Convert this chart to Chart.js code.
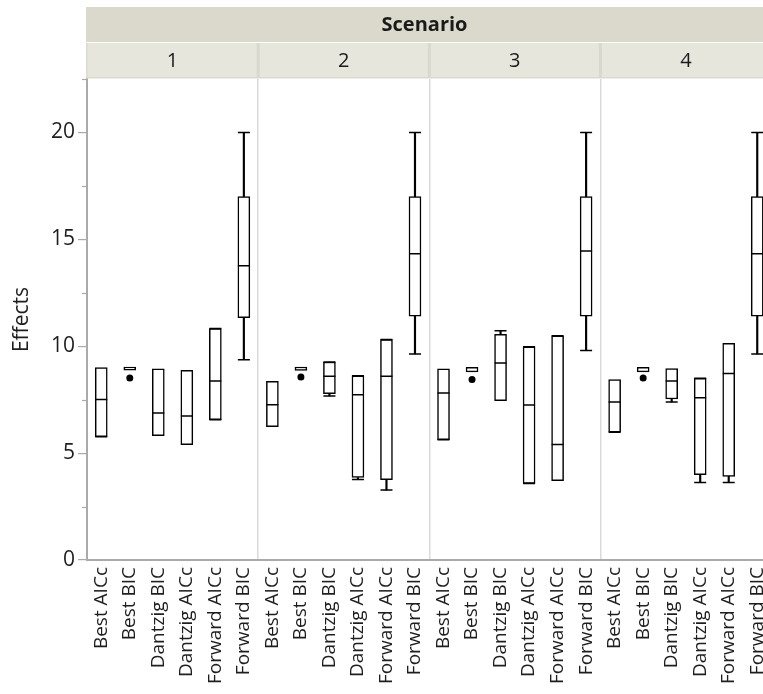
<!DOCTYPE html>
<html>
<head>
<meta charset="utf-8">
<script src="https://cdn.jsdelivr.net/npm/chart.js@4.4.1/dist/chart.umd.min.js"></script>
<style>
  html, body { margin: 0; padding: 0; background: #fff; overflow: hidden; }
  #wrap { position: absolute; left: 0; top: 0; width: 763px; height: 694px; overflow: hidden; }
  canvas { position: absolute; left: 0; top: 0; }
</style>
</head>
<body>
<div id="wrap"><canvas id="c" width="779" height="694" style="width:779px;height:694px"></canvas></div>
<script>
// ---- data ----
const groupTitle = 'Scenario';
const scenarios = ['1', '2', '3', '4'];
const methods = ['Best AICc', 'Best BIC', 'Dantzig BIC', 'Dantzig AICc', 'Forward AICc', 'Forward BIC'];
const yTitle = 'Effects';

// one entry per (scenario, method), scenario-major
const q1 = [
  5.77, 8.88, 5.82, 5.40, 6.56, 11.33,
  6.24, 8.87, 7.78, 3.86, 3.76, 11.41,
  5.63, 8.80, 7.45, 3.58, 3.71, 11.41,
  5.98, 8.80, 7.53, 3.99, 3.91, 11.41
];
const median = [
  7.51, null, 6.88, 6.74, 8.37, 13.77,
  7.26, null, 8.59, 7.73, 8.59, 14.33,
  7.81, null, 9.22, 7.25, 5.40, 14.46,
  7.39, null, 8.37, 7.59, 8.72, 14.33
];
const q3 = [
  9.00, 9.02, 8.94, 8.87, 10.83, 17.0,
  8.36, 9.02, 9.26, 8.62, 10.31, 17.0,
  8.94, 9.01, 10.56, 9.97, 10.49, 17.0,
  8.44, 9.01, 8.95, 8.50, 10.13, 17.0
];
const whiskerLow = [
  5.77, null, null, null, 6.56, 9.37,
  null, null, 7.67, 3.77, 3.27, 9.64,
  5.63, null, null, 3.58, null, 9.80,
  5.98, null, 7.39, 3.62, 3.62, 9.64
];
const whiskerHigh = [
  null, null, null, null, 10.83, 20.0,
  null, null, 9.26, 8.62, 10.31, 20.0,
  null, null, 10.72, 9.97, 10.49, 20.0,
  null, null, null, 8.50, null, 20.0
];
const outliers = [
  null, 8.51, null, null, null, null,
  null, 8.56, null, null, null, null,
  null, 8.44, null, null, null, null,
  null, 8.51, null, null, null, null
];
const yMin = 0, yMax = 22.5, yStep = 2.5, yLabelStep = 5;

// ---- build ----
const labels = scenarios.flatMap(() => methods);
const boxes = q1.map((v, i) => [v, q3[i]]);
const lowW = whiskerLow.map((v, i) => v == null ? null : [v, q1[i]]);
const highW = whiskerHigh.map((v, i) => v == null ? null : [q3[i], v]);
const FONT = "'Open Sans', 'Noto Sans', sans-serif";
const BOX_W = 12;

const headerPlugin = {
  id: 'header',
  afterDraw(chart) {
    const ctx = chart.ctx, x = chart.scales.x, y = chart.scales.y, a = chart.chartArea;
    const left = a.left - 1, right = chart.width;
    ctx.save();
    ctx.fillStyle = '#dbd9cb';
    ctx.fillRect(left, 7, right - left, 35);
    ctx.fillStyle = '#e7e6dd';
    ctx.fillRect(left, 43, right - left, 35);
    ctx.fillStyle = '#dcdbd1';
    ctx.fillRect(left, 77, right - left, 1.5);
    ctx.fillRect(left, 43, 1.5, 35);
    const n = methods.length;
    const half = (x.getPixelForValue(1) - x.getPixelForValue(0)) / 2;
    const centers = [];
    for (let s = 0; s < scenarios.length; s++) {
      const first = x.getPixelForValue(s * n), last = x.getPixelForValue(s * n + n - 1);
      centers.push([first - half, last + half]);
      if (s > 0) {
        ctx.fillStyle = '#d9d8ce';
        ctx.fillRect(first - half - 1.5, 43, 3, 35);
      }
    }
    ctx.fillStyle = '#1a1a1a';
    ctx.textAlign = 'center';
    ctx.textBaseline = 'middle';
    ctx.font = 'bold 20px ' + FONT;
    ctx.fillText(groupTitle, (left + 763) / 2, 25);
    ctx.font = '20px ' + FONT;
    centers.forEach((c, s) => ctx.fillText(scenarios[s], (c[0] + c[1]) / 2, 61));
    // minor ticks on y axis
    ctx.strokeStyle = '#aaaaaa';
    ctx.lineWidth = 1.2;
    for (let v = yMin; v <= yMax + 1e-9; v += yStep) {
      if (Math.abs(v / yLabelStep - Math.round(v / yLabelStep)) > 1e-6) {
        const py = Math.round(y.getPixelForValue(v)) + 0.5;
        ctx.beginPath();
        ctx.moveTo(a.left - 5, py);
        ctx.lineTo(a.left, py);
        ctx.stroke();
      }
    }
    ctx.restore();
  }
};

new Chart(document.getElementById('c'), {
  data: {
    labels: labels,
    datasets: [
      { type: 'bar', order: 20, data: boxes, grouped: false, barThickness: BOX_W, backgroundColor: '#ffffff',
        borderColor: '#000', borderWidth: 1.5, borderSkipped: false },
      { type: 'bar', order: 10, data: lowW, grouped: false, barThickness: 1.5, backgroundColor: '#000', borderWidth: 0 },
      { type: 'bar', order: 10, data: highW, grouped: false, barThickness: 1.5, backgroundColor: '#000', borderWidth: 0 },
      { type: 'line', order: 1, data: median, showLine: false, pointStyle: 'line', pointRadius: BOX_W / 2,
        pointBorderColor: '#000', pointBorderWidth: 1.5 },
      { type: 'line', order: 1, data: whiskerLow, showLine: false, pointStyle: 'line', pointRadius: BOX_W / 2,
        pointBorderColor: '#000', pointBorderWidth: 1.5 },
      { type: 'line', order: 1, data: whiskerHigh, showLine: false, pointStyle: 'line', pointRadius: BOX_W / 2,
        pointBorderColor: '#000', pointBorderWidth: 1.5 },
      { type: 'line', order: 1, data: outliers, showLine: false, pointStyle: 'circle', pointRadius: 3.5,
        pointBackgroundColor: '#000', pointBorderColor: '#000', pointBorderWidth: 0 }
    ]
  },
  options: {
    responsive: false,
    animation: false,
    events: [],
    layout: { padding: { top: 79, right: 2, left: 0, bottom: 0 } },
    plugins: { legend: { display: false }, tooltip: { enabled: false }, title: { display: false } },
    scales: {
      x: {
        type: 'category',
        offset: true,
        grid: {
          offset: true,
          drawTicks: false,
          lineWidth: 1.5,
          color: (ctx) => (ctx.index % methods.length === 0 && ctx.index !== 0) ? '#dadada' : 'rgba(0,0,0,0)'
        },
        border: { color: '#aaaaaa', width: 2 },
        ticks: {
          autoSkip: false, maxRotation: 90, minRotation: 90, padding: 7,
          color: '#1e1e1e', font: { family: FONT, size: 19 }
        },
        afterFit: (s) => { s.height = 694 - 559 - 1; s.paddingLeft = 0; s.paddingRight = 0; }
      },
      y: {
        min: yMin, max: yMax,
        grid: {
          drawOnChartArea: false, drawTicks: true, tickLength: 9, lineWidth: 1.2,
          tickColor: (ctx) => (ctx.tick && Math.abs(ctx.tick.value % yLabelStep) < 1e-6) ? '#aaaaaa' : 'rgba(0,0,0,0)'
        },
        border: { color: '#aaaaaa', width: 2 },
        ticks: {
          stepSize: yStep, padding: 3, color: '#1e1e1e', font: { family: FONT, size: 21 },
          callback: (v) => Math.abs(v % yLabelStep) < 1e-6 ? String(v) : ''
        },
        title: { display: true, text: yTitle, color: '#1e1e1e', font: { family: FONT, size: 21 }, padding: { top: 9, bottom: 0 } },
        afterFit: (s) => { s.width = 87; s.paddingTop = 0; s.paddingBottom = 0; }
      }
    }
  },
  plugins: [headerPlugin]
});
</script>
</body>
</html>
